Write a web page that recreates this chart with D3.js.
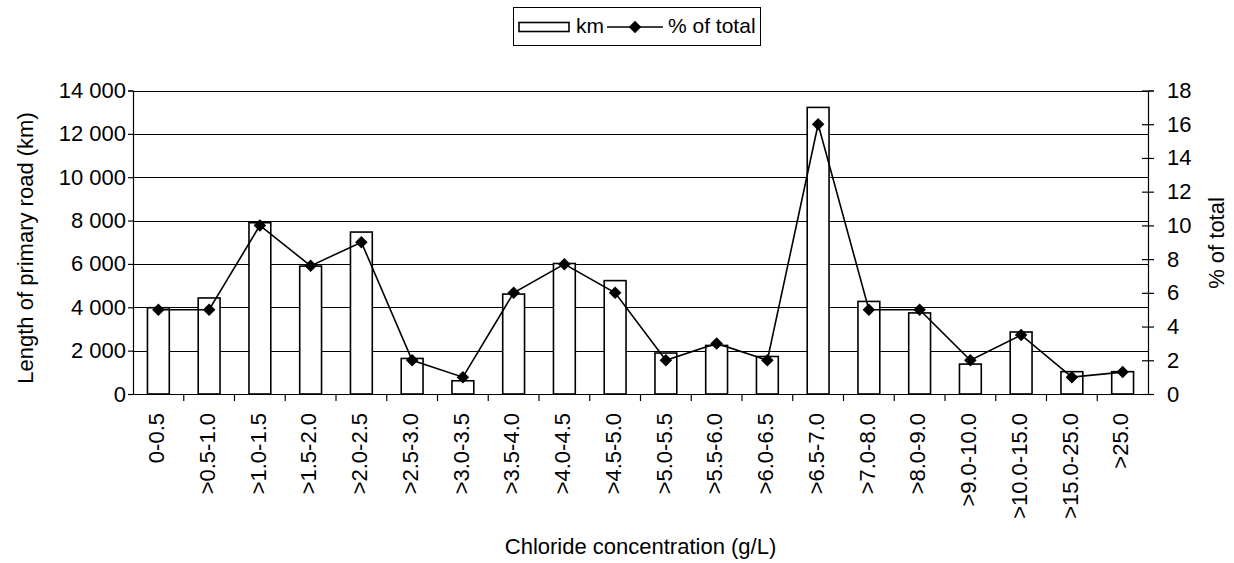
<!DOCTYPE html>
<html>
<head>
<meta charset="utf-8">
<script src="https://cdn.jsdelivr.net/npm/d3@7"></script>
<style>
  html, body { margin: 0; padding: 0; background: #fff; }
  svg { display: block; font-family: "Liberation Sans", Arial, sans-serif; }
</style>
</head>
<body>
<svg id="chart" width="1234" height="563"></svg>
<script>
const categories = ["0-0.5", ">0.5-1.0", ">1.0-1.5", ">1.5-2.0", ">2.0-2.5", ">2.5-3.0", ">3.0-3.5",
  ">3.5-4.0", ">4.0-4.5", ">4.5-5.0", ">5.0-5.5", ">5.5-6.0", ">6.0-6.5", ">6.5-7.0",
  ">7.0-8.0", ">8.0-9.0", ">9.0-10.0", ">10.0-15.0", ">15.0-25.0", ">25.0"];
const kmValues = [3980, 4430, 7900, 5900, 7470, 1640, 610, 4610, 6020, 5230, 1890, 2240, 1730, 13220,
  4270, 3740, 1380, 2860, 1030, 1030];
const pctValues = [5.0, 5.0, 10.0, 7.6, 9.0, 2.0, 1.0, 6.0, 7.7, 6.0, 2.0, 3.0, 2.0, 16.0,
  5.0, 5.0, 2.0, 3.5, 1.0, 1.3];
const leftTicks = [0, 2000, 4000, 6000, 8000, 10000, 12000, 14000];
const rightTicks = [0, 2, 4, 6, 8, 10, 12, 14, 16, 18];
const xTitle = "Chloride concentration (g/L)";
const yLeftTitle = "Length of primary road (km)";
const yRightTitle = "% of total";
const legendLabels = ["km", "% of total"];

const svg = d3.select("#chart");
const m = { left: 133, right: 1148, top: 90.5, bottom: 394 };

const x = d3.scaleBand().domain(categories).range([m.left, m.right]).paddingInner(0.57).paddingOuter(0.285);
const xb = d3.scaleBand().domain(categories).range([m.left, m.right]);
const yL = d3.scaleLinear().domain([0, 14000]).range([m.bottom, m.top]);
const yR = d3.scaleLinear().domain([0, 18]).range([m.bottom, m.top]);

const loc = d3.formatLocale({ decimal: ".", thousands: " ", grouping: [3], currency: ["", ""] });
const fmt = loc.format(",d");

// gridlines
svg.append("g").selectAll("line").data(leftTicks.filter(d => d > 0)).join("line")
  .attr("x1", m.left).attr("x2", m.right)
  .attr("y1", d => Math.round(yL(d)) + 0.5).attr("y2", d => Math.round(yL(d)) + 0.5)
  .attr("stroke", "#000").attr("stroke-width", 1);

// bars
svg.append("g").selectAll("rect").data(categories).join("rect")
  .attr("x", (d) => x(d))
  .attr("width", x.bandwidth())
  .attr("y", (d, i) => yL(kmValues[i]))
  .attr("height", (d, i) => m.bottom - yL(kmValues[i]))
  .attr("fill", "#fff").attr("stroke", "#000").attr("stroke-width", 1.6);

// left axis
const gL = svg.append("g").attr("transform", `translate(${m.left},0)`)
  .call(d3.axisLeft(yL).tickValues(leftTicks).tickFormat(fmt).tickSize(5).tickPadding(2));
gL.selectAll("path,line").attr("stroke", "#000").attr("stroke-width", 1.2);
gL.selectAll("text").attr("font-size", 22).attr("fill", "#000").attr("font-family", "Liberation Sans, Arial, sans-serif");

// right axis
const gR = svg.append("g").attr("transform", `translate(${m.right},0)`)
  .call(d3.axisRight(yR).tickValues(rightTicks).tickSize(6).tickPadding(13));
gR.select("path").attr("stroke", "#000").attr("stroke-width", 1.2);
gR.selectAll(".tick line").attr("x1", -6).attr("x2", 6).attr("stroke", "#000").attr("stroke-width", 1.2);
gR.selectAll("text").attr("font-size", 22).attr("fill", "#000").attr("font-family", "Liberation Sans, Arial, sans-serif");

// bottom axis
const gB = svg.append("g").attr("transform", `translate(0,${m.bottom})`);
gB.append("line").attr("x1", m.left).attr("x2", m.right).attr("y1", 0.5).attr("y2", 0.5)
  .attr("stroke", "#000").attr("stroke-width", 1.2);
gB.selectAll("line.t").data(categories.slice(1)).join("line").attr("class", "t")
  .attr("x1", d => xb(d)).attr("x2", d => xb(d)).attr("y1", 0).attr("y2", 7)
  .attr("stroke", "#000").attr("stroke-width", 1.2);
gB.selectAll("text").data(categories).join("text")
  .attr("transform", d => `translate(${xb(d) + xb.bandwidth() / 2 - 2},19) rotate(-90)`)
  .attr("text-anchor", "end").attr("dy", "0.35em")
  .attr("font-size", 22).attr("fill", "#000")
  .text(d => d);

// line + markers
const line = d3.line().x((d, i) => xb(categories[i]) + xb.bandwidth() / 2).y(d => yR(d));
svg.append("path").datum(pctValues).attr("d", line)
  .attr("fill", "none").attr("stroke", "#000").attr("stroke-width", 1.6);
svg.append("g").selectAll("path").data(pctValues).join("path")
  .attr("transform", (d, i) => `translate(${xb(categories[i]) + xb.bandwidth() / 2},${yR(d)})`)
  .attr("d", d3.symbol().type(d3.symbolDiamond2).size(100))
  .attr("fill", "#000");

// axis titles
svg.append("text").attr("transform", `translate(${(m.left + m.right) / 2},554)`)
  .attr("text-anchor", "middle").attr("font-size", 22).attr("fill", "#000").text(xTitle);
svg.append("text").attr("transform", `translate(33,248) rotate(-90)`)
  .attr("text-anchor", "middle").attr("font-size", 22).attr("fill", "#000").text(yLeftTitle);
svg.append("text").attr("transform", `translate(1224,243) rotate(-90)`)
  .attr("text-anchor", "middle").attr("font-size", 22).attr("fill", "#000").text(yRightTitle);

// legend
const lg = svg.append("g");
lg.append("rect").attr("x", 513.5).attr("y", 7.5).attr("width", 247).attr("height", 38)
  .attr("fill", "#fff").attr("stroke", "#000").attr("stroke-width", 1);
lg.append("rect").attr("x", 519).attr("y", 22.5).attr("width", 50).attr("height", 9)
  .attr("fill", "#fff").attr("stroke", "#000").attr("stroke-width", 1.6);
lg.append("text").attr("x", 576).attr("y", 33).attr("font-size", 21).attr("fill", "#000").text(legendLabels[0]);
lg.append("line").attr("x1", 607).attr("x2", 663).attr("y1", 27).attr("y2", 27)
  .attr("stroke", "#000").attr("stroke-width", 1.6);
lg.append("path").attr("transform", "translate(635,27)")
  .attr("d", d3.symbol().type(d3.symbolDiamond2).size(100)).attr("fill", "#000");
lg.append("text").attr("x", 668).attr("y", 33).attr("font-size", 21).attr("fill", "#000").text(legendLabels[1]);
</script>
</body>
</html>
